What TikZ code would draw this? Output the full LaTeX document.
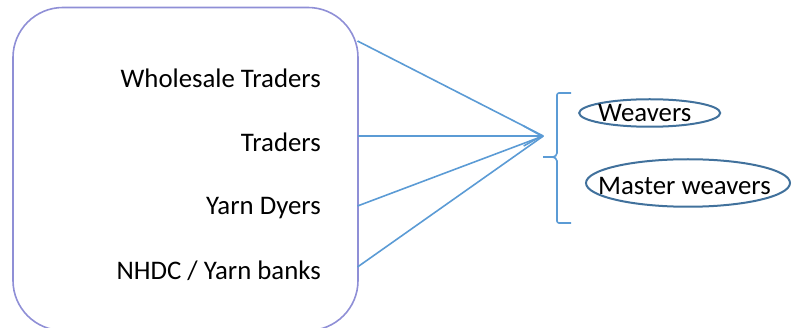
\documentclass[tikz,border=0pt]{standalone}
\usepackage{fontspec}
\setmainfont{Carlito}
\usetikzlibrary{arrows.meta,shapes.geometric}
\definecolor{boxline}{RGB}{143,143,214}
\definecolor{linkline}{RGB}{91,155,213}
\definecolor{ovalline}{RGB}{65,113,156}
\begin{document}
\begin{tikzpicture}[x=1pt,y=-1pt,
  txt/.style={inner sep=0pt, font=\fontsize{26.8}{30}\selectfont},
  lbl/.style={txt, anchor=base east},
  rlbl/.style={txt, anchor=base west},
  link/.style={draw=linkline, line width=1.6pt},
  bracket/.style={draw=linkline, line width=1.6pt, rounded corners=2pt},
  oval/.style={ellipse, draw=ovalline, line width=2pt, inner sep=0pt}]
\useasboundingbox (0,0) rectangle (792,328);
\clip (0,0) rectangle (792,328);

% rounded box holding the suppliers
\node[draw=boxline, line width=1.6pt, rounded corners=50pt,
      minimum width=345pt, minimum height=323pt, inner sep=0pt] (src) at (185.5,169) {};
\node[lbl] (wt) at (321,87.3)  {Wholesale Traders};
\node[lbl] (tr) at (321,151.7) {Traders};
\node[lbl] (yd) at (321,215)   {Yarn Dyers};
\node[lbl] (nh) at (321,279.3) {NHDC / Yarn banks};

% connectors leaving the box edge and meeting at one point
\coordinate (e1) at (357.5,41);
\coordinate (e2) at (357.5,136);
\coordinate (e3) at (357.5,206);
\coordinate (e4) at (357.5,267);
\coordinate (hub) at (543.3,136);
\draw[link] (e1) -- (hub);
\draw[link] (e3) -- (hub);
\draw[link] (e4) -- (hub);
\draw[link, -{Straight Barb[length=18pt,width=20pt]}] (e2) -- (hub);

% left brace
\draw[bracket] (571,93) -- (557,93) -- (557,151)
  .. controls (557,155) and (555,157) .. (551,157) -- (543,157);
\draw[bracket] (551,157) .. controls (555,157) and (557,159) .. (557,163)
  -- (557,223) -- (571,223);

% weaver groups
\node[oval, minimum width=141pt, minimum height=27.5pt] (wv) at (649.7,113) {};
\node[rlbl] (wvt) at (598,121.7) {Weavers};
\node[oval, minimum width=204pt, minimum height=47.5pt] (mw) at (688,183) {};
\node[rlbl] (mwt) at (598,195) {Master weavers};
\end{tikzpicture}
\end{document}
